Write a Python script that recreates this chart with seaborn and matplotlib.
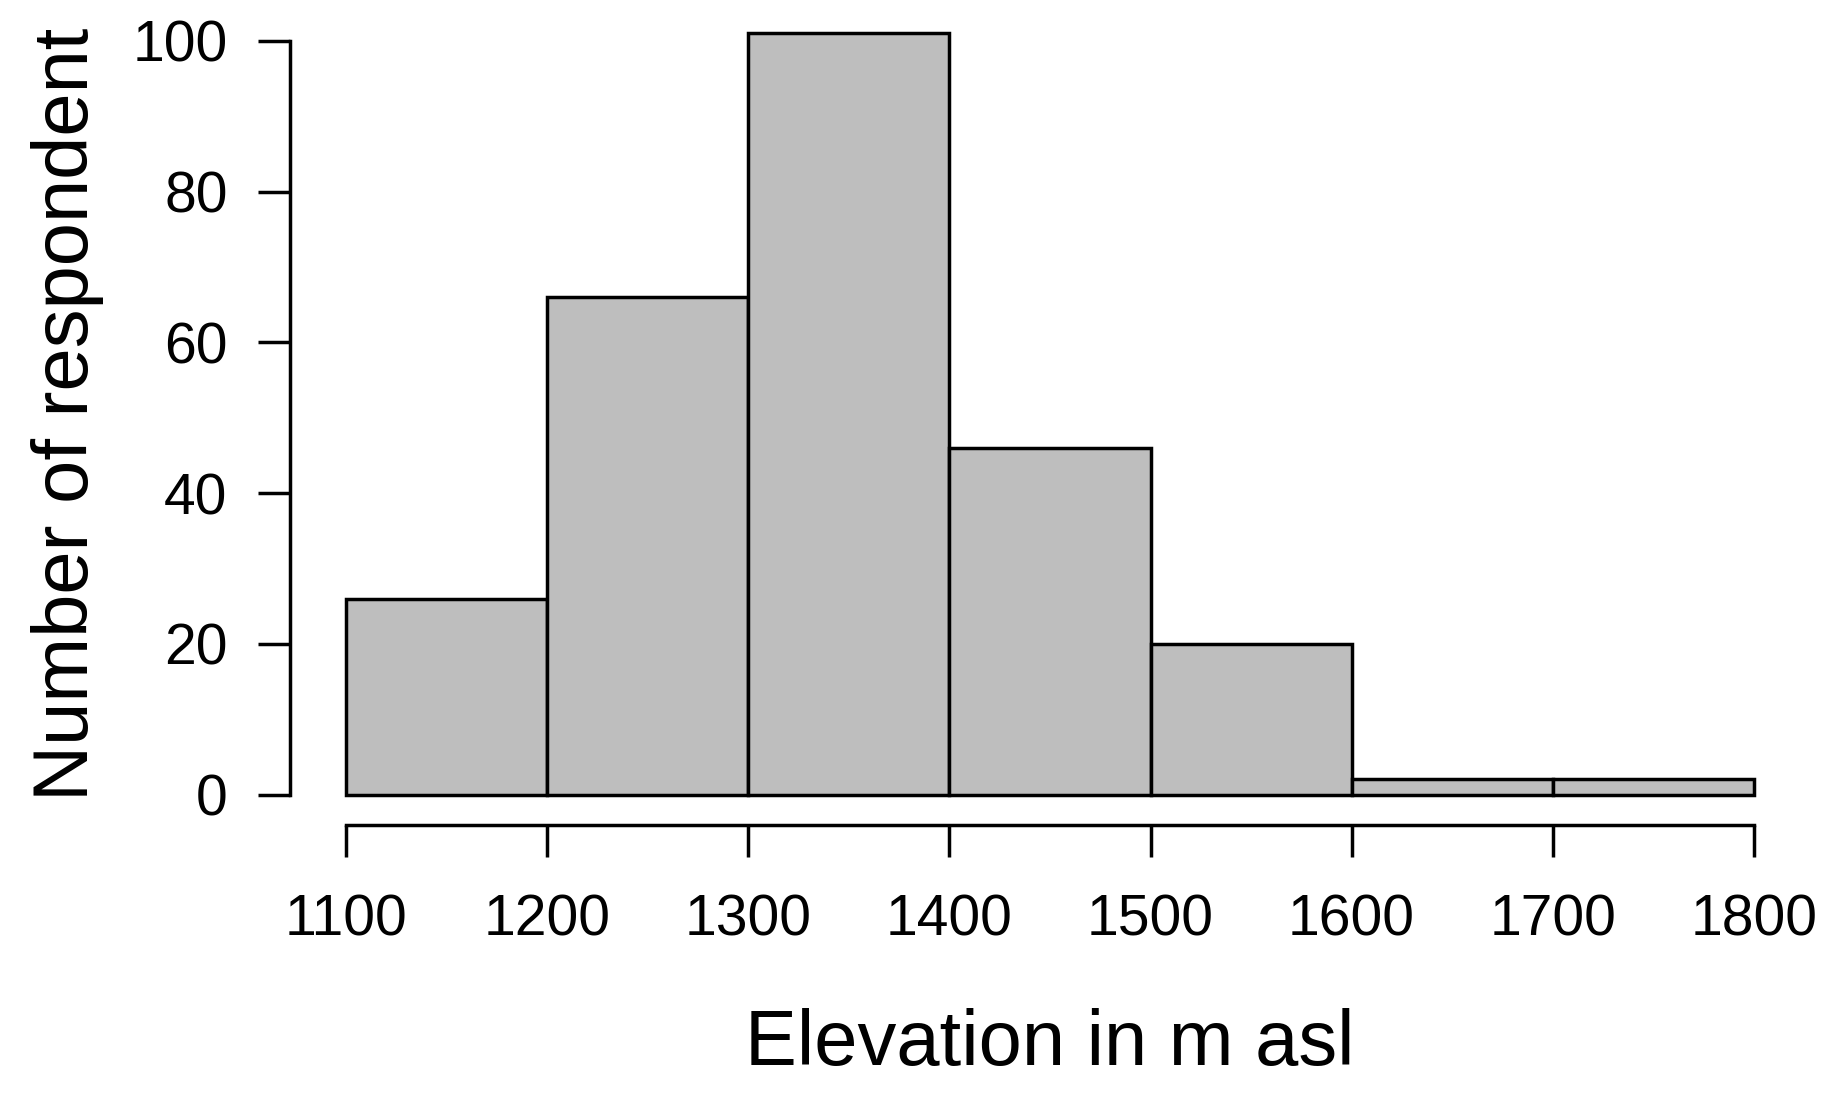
import matplotlib
matplotlib.use("Agg")
import matplotlib.pyplot as plt
import seaborn as sns
import numpy as np
import pandas as pd

# elevation bins (m asl) and respondent counts
bin_edges = [1100, 1200, 1300, 1400, 1500, 1600, 1700, 1800]
counts = [26, 66, 101, 46, 20, 2, 2]
x_ticks = [1100, 1200, 1300, 1400, 1500, 1600, 1700, 1800]
y_ticks = [0, 20, 40, 60, 80, 100]

df = pd.DataFrame({
    "elevation": [(a + b) / 2 for a, b in zip(bin_edges[:-1], bin_edges[1:])],
    "n": counts,
})

sns.set_style("white")
plt.rcParams["font.family"] = ["Liberation Sans", "DejaVu Sans"]
plt.rcParams["text.color"] = "black"
plt.rcParams["axes.labelcolor"] = "black"
plt.rcParams["xtick.color"] = "black"
plt.rcParams["ytick.color"] = "black"

fig = plt.figure(figsize=(18.46, 11.02), dpi=100)
ax = fig.add_axes([0.1571, 0.2514, 0.8234, 0.7459])

sns.histplot(
    data=df,
    x="elevation",
    weights="n",
    bins=bin_edges,
    color="#BEBEBE",
    edgecolor="black",
    linewidth=2.5,
    alpha=1,
    ax=ax,
)

# R-style extended limits (4%)
ax.set_xlim(1072, 1828)
ax.set_ylim(-4.04, 105.04)

for s in ["top", "right"]:
    ax.spines[s].set_visible(False)
ax.spines["left"].set_bounds(0, 100)
ax.spines["bottom"].set_bounds(1100, 1800)
for s in ["left", "bottom"]:
    ax.spines[s].set_linewidth(2.5)
    ax.spines[s].set_color("black")

ax.set_xticks(x_ticks)
ax.set_yticks(y_ticks)
ax.tick_params(axis="both", direction="out", length=23, width=2.5,
               labelsize=41, color="black", labelcolor="black",
               bottom=True, left=True)
ax.tick_params(axis="x", pad=26)
ax.tick_params(axis="y", pad=22)

ax.set_xlabel("Elevation in m asl", fontsize=56, labelpad=44, color="black")
ax.set_ylabel("Number of respondent", fontsize=56, labelpad=20, color="black")

fig.savefig("out.png", dpi=100, facecolor="white")
